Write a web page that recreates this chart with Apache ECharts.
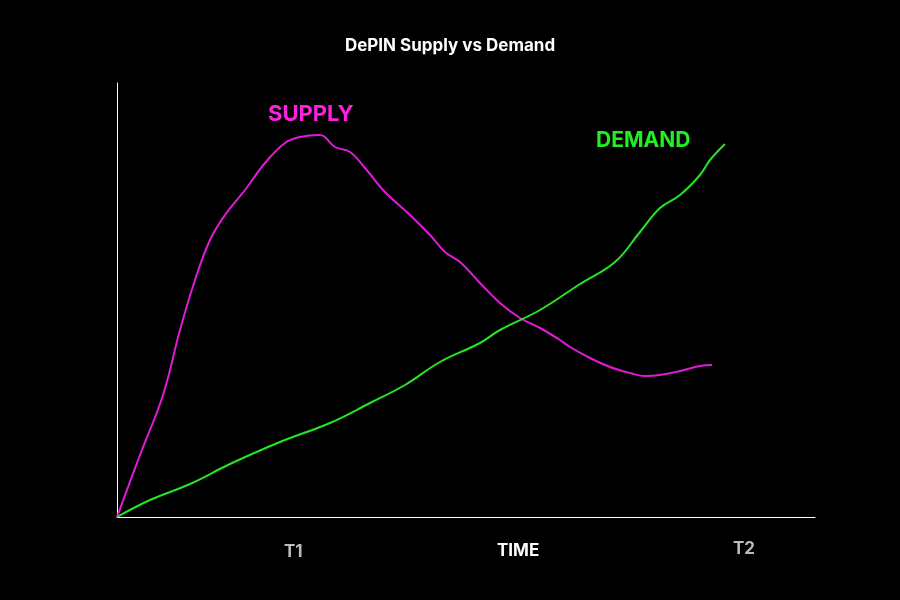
<!DOCTYPE html>
<html><head><meta charset="utf-8">
<script src="https://cdn.jsdelivr.net/npm/echarts@6/dist/echarts.min.js"></script>
<style>body{margin:0;background:#000}#c{width:900px;height:600px}</style>
</head><body><div id="c"></div>
<script>
// time / level readings
var supplyX = [0,23,46,63,78,93,108,128,148,168,183,203,218,233,248,268,293,313,328,343,363,383,403,423,443,453,473,493,513,528,543,563,583,595];
var supplyY = [0,62,122,187,237,277,302,327,354,374,380,382,370,365,349,325,302,282,265,255,234,214,199,189,177,170,159,150,144,141,142,146,151,152];
var demandX = [0,33,73,113,163,213,253,288,323,363,383,423,463,498,523,543,563,583,593,608];
var demandY = [0,17,33,53,75,94,114,132,155,174,187,207,233,255,285,309,322,342,357,373];

function pairs(xs, ys){ return xs.map(function(x,i){ return [x, ys[i]]; }); }

var myChart = echarts.init(document.getElementById('c'));
var option = {
    backgroundColor: '#000',
    animation: false,
    title: {
        text: 'DePIN Supply vs Demand', left: 'center', top: 32,
        textStyle: {color: '#fff', fontSize: 17, fontWeight: 'bold', fontFamily: 'Inter'}
    },
    grid: {left: 117, right: 85, top: 83, bottom: 83},
    xAxis: {
        type: 'value', min: 0, max: 698,
        axisLine: {lineStyle: {color: '#fff', width: 1}},
        axisTick: {show: false}, axisLabel: {show: false}, splitLine: {show: false}
    },
    yAxis: {
        type: 'value', min: 0, max: 434,
        axisLine: {show: true, lineStyle: {color: '#fff', width: 1}},
        axisTick: {show: false}, axisLabel: {show: false}, splitLine: {show: false}
    },
    graphic: [
        {type: 'text', left: 268, top: 103, style: {text: 'SUPPLY', fill: '#ff1fe0', font: 'bold 22px Inter'}},
        {type: 'text', left: 596, top: 130, style: {text: 'DEMAND', fill: '#22f022', font: 'bold 21px Inter'}},
        {type: 'text', left: 284, top: 543, style: {text: 'T1', fill: '#bbb', font: 'bold 17px Inter'}},
        {type: 'text', left: 497, top: 542, style: {text: 'TIME', fill: '#fff', font: 'bold 17px Inter'}},
        {type: 'text', left: 733, top: 540, style: {text: 'T2', fill: '#bbb', font: 'bold 17px Inter'}}
    ],
    series: [
        {name: 'Supply', type: 'line', smooth: 0.4, symbol: 'none', data: pairs(supplyX, supplyY),
         lineStyle: {color: '#e21ad8', width: 2}},
        {name: 'Demand', type: 'line', smooth: 0.4, symbol: 'none', data: pairs(demandX, demandY),
         lineStyle: {color: '#22e622', width: 2}}
    ]
};
myChart.setOption(option);
</script></body></html>
